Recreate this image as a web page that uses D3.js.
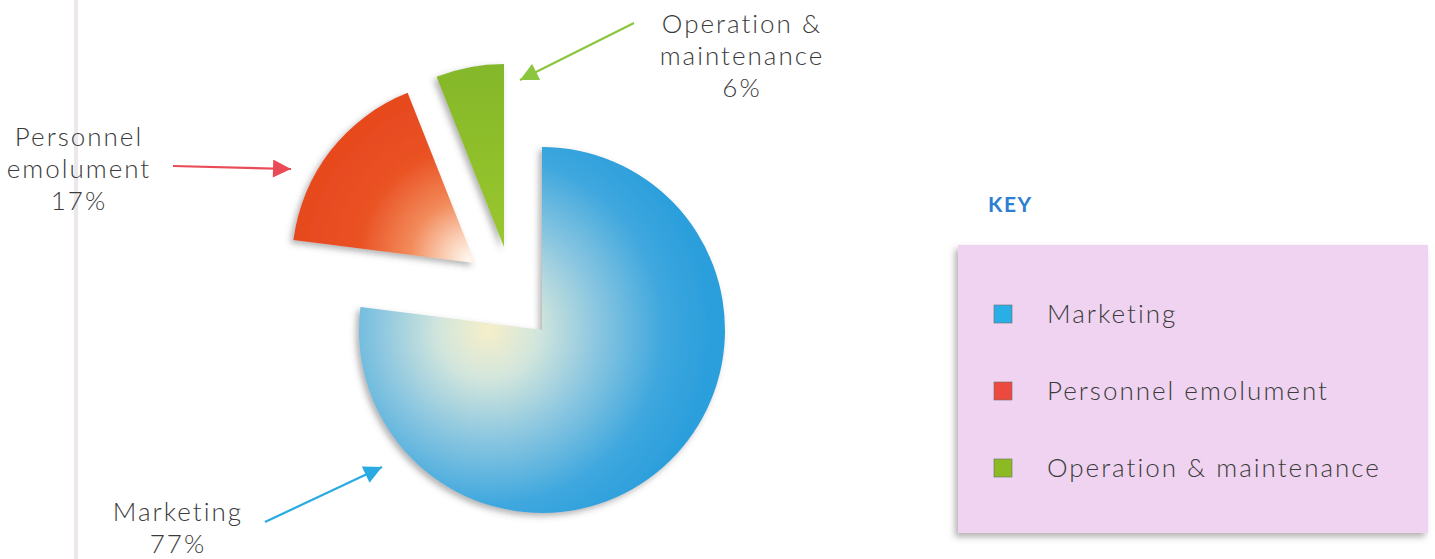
<!DOCTYPE html>
<html>
<head>
<meta charset="utf-8">
<script src="https://cdn.jsdelivr.net/npm/d3@7"></script>
<style>
  html, body { margin: 0; padding: 0; background: #ffffff; }
  svg { display: block; }
  text { font-family: Lato, "Open Sans", sans-serif; }
</style>
</head>
<body>
<svg id="chart" width="1435" height="559"></svg>
<script>
// ---------------- data ----------------
const categories = ["Marketing", "Personnel emolument", "Operation & maintenance"];
const values = [77, 17, 6];
const labelLines = [
  ["Marketing", "77%"],
  ["Personnel", "emolument", "17%"],
  ["Operation &", "maintenance", "6%"]
];
const legendTitle = "KEY";

// ---------------- layout / style ----------------
const W = 1435, H = 559;
const center = { x: 542, y: 330 };
const radius = 183;
const explode = [ {dx: 0, dy: 0}, {dx: -67, dy: -67}, {dx: -38, dy: -83} ];
const legendColors = ["#2aaee6", "#ec4a3e", "#8cba22"];
const arrowColors = ["#29abe2", "#e94b57", "#8cc63f"];
const labelLayout = [
  { x: 178, y: 521, arrow: [[265, 522], [382, 467]] },
  { x: 79,  y: 146, arrow: [[173, 166], [291, 169]] },
  { x: 742, y: 33,  arrow: [[634, 23],  [520, 80]] }
];
const textColor = "#3b3b3b";
const lineH = 32;
const fontSize = 26;
const letterSp = 2;

const svg = d3.select("#chart");
const defs = svg.append("defs");

// drop shadows
const f = defs.append("filter").attr("id", "shadow")
  .attr("x", "-20%").attr("y", "-20%").attr("width", "140%").attr("height", "140%");
f.append("feDropShadow").attr("dx", -3).attr("dy", 3).attr("stdDeviation", 3)
  .attr("flood-color", "#555").attr("flood-opacity", 0.45);

const f2 = defs.append("filter").attr("id", "boxshadow")
  .attr("x", "-10%").attr("y", "-10%").attr("width", "120%").attr("height", "120%");
f2.append("feDropShadow").attr("dx", -3).attr("dy", 4).attr("stdDeviation", 3)
  .attr("flood-color", "#666").attr("flood-opacity", 0.5);

// gradients (coordinates in each slice's own translated space)
function radial(id, cx, cy, r, stops) {
  const g = defs.append("radialGradient").attr("id", id)
    .attr("gradientUnits", "userSpaceOnUse")
    .attr("cx", cx).attr("cy", cy).attr("r", r);
  stops.forEach(s => g.append("stop").attr("offset", s[0]).attr("stop-color", s[1]));
}
radial("gBlue", -54, 0, 220, [
  [0, "#f6efc9"], [0.22, "#d3e6dc"], [0.5, "#8ac6e0"], [0.8, "#3ea7de"], [1, "#2c9fdc"]
]);
radial("gRed", -6, -4, 200, [
  [0, "#fff7f0"], [0.1, "#fbd6bf"], [0.3, "#f28a5a"], [0.55, "#ea5224"], [1, "#e5451c"]
]);
const lg = defs.append("linearGradient").attr("id", "gGreen")
  .attr("x1", 0).attr("y1", 0).attr("x2", 0).attr("y2", 1);
lg.append("stop").attr("offset", 0).attr("stop-color", "#84b72a");
lg.append("stop").attr("offset", 1).attr("stop-color", "#9ac72e");
const fills = ["url(#gBlue)", "url(#gRed)", "url(#gGreen)"];

// page gutter line
svg.append("rect").attr("x", 74).attr("y", 0).attr("width", 4).attr("height", H)
  .attr("fill", "#ebe7eb");

// pie
const pie = d3.pie().sort(null).value(d => d);
const arc = d3.arc().innerRadius(0).outerRadius(radius);
const arcs = pie(values);

svg.append("g").attr("transform", `translate(${center.x},${center.y})`)
  .selectAll("path").data(arcs).join("path")
  .attr("transform", (d, i) => `translate(${explode[i].dx},${explode[i].dy})`)
  .attr("d", arc)
  .attr("fill", (d, i) => fills[i])
  .attr("filter", "url(#shadow)");

// arrow markers
arrowColors.forEach((c, i) => {
  defs.append("marker").attr("id", "arr" + i)
    .attr("viewBox", "0 0 10 10").attr("refX", 10).attr("refY", 5)
    .attr("markerUnits", "userSpaceOnUse")
    .attr("markerWidth", 20).attr("markerHeight", 18)
    .attr("orient", "auto")
    .append("path").attr("d", "M0,0 L10,5 L0,10 Z").attr("fill", c);
});

const labels = svg.append("g");
categories.forEach((cat, i) => {
  const L = labelLayout[i];
  const a = L.arrow;
  labels.append("line")
    .attr("x1", a[0][0]).attr("y1", a[0][1])
    .attr("x2", a[1][0]).attr("y2", a[1][1])
    .attr("stroke", arrowColors[i]).attr("stroke-width", 2.2)
    .attr("marker-end", `url(#arr${i})`);
  const t = labels.append("text")
    .attr("text-anchor", "middle")
    .attr("fill", textColor)
    .attr("font-size", fontSize)
    .attr("font-weight", 300)
    .attr("letter-spacing", letterSp);
  labelLines[i].forEach((ln, j) => {
    t.append("tspan").attr("x", L.x).attr("y", L.y + j * lineH).text(ln);
  });
});

// legend
svg.append("text").attr("x", 988).attr("y", 212)
  .attr("fill", "#2d7fd1").attr("font-size", 21).attr("font-weight", 700)
  .attr("letter-spacing", 1.5)
  .text(legendTitle);

svg.append("rect").attr("x", 958).attr("y", 245).attr("width", 470).attr("height", 288)
  .attr("fill", "#efd3f0").attr("filter", "url(#boxshadow)");

const ly = d3.scalePoint().domain(categories).range([314, 468]);
const leg = svg.append("g").selectAll("g").data(categories).join("g")
  .attr("transform", d => `translate(0,${ly(d)})`);
leg.append("rect").attr("x", 994).attr("y", -9).attr("width", 18).attr("height", 18)
  .attr("fill", (d, i) => legendColors[i]).attr("stroke", "#6b6b6b").attr("stroke-width", 0.6);
leg.append("text").attr("x", 1047).attr("y", 9)
  .attr("fill", textColor).attr("font-size", fontSize).attr("font-weight", 300)
  .attr("letter-spacing", letterSp)
  .text(d => d);
</script>
</body>
</html>
